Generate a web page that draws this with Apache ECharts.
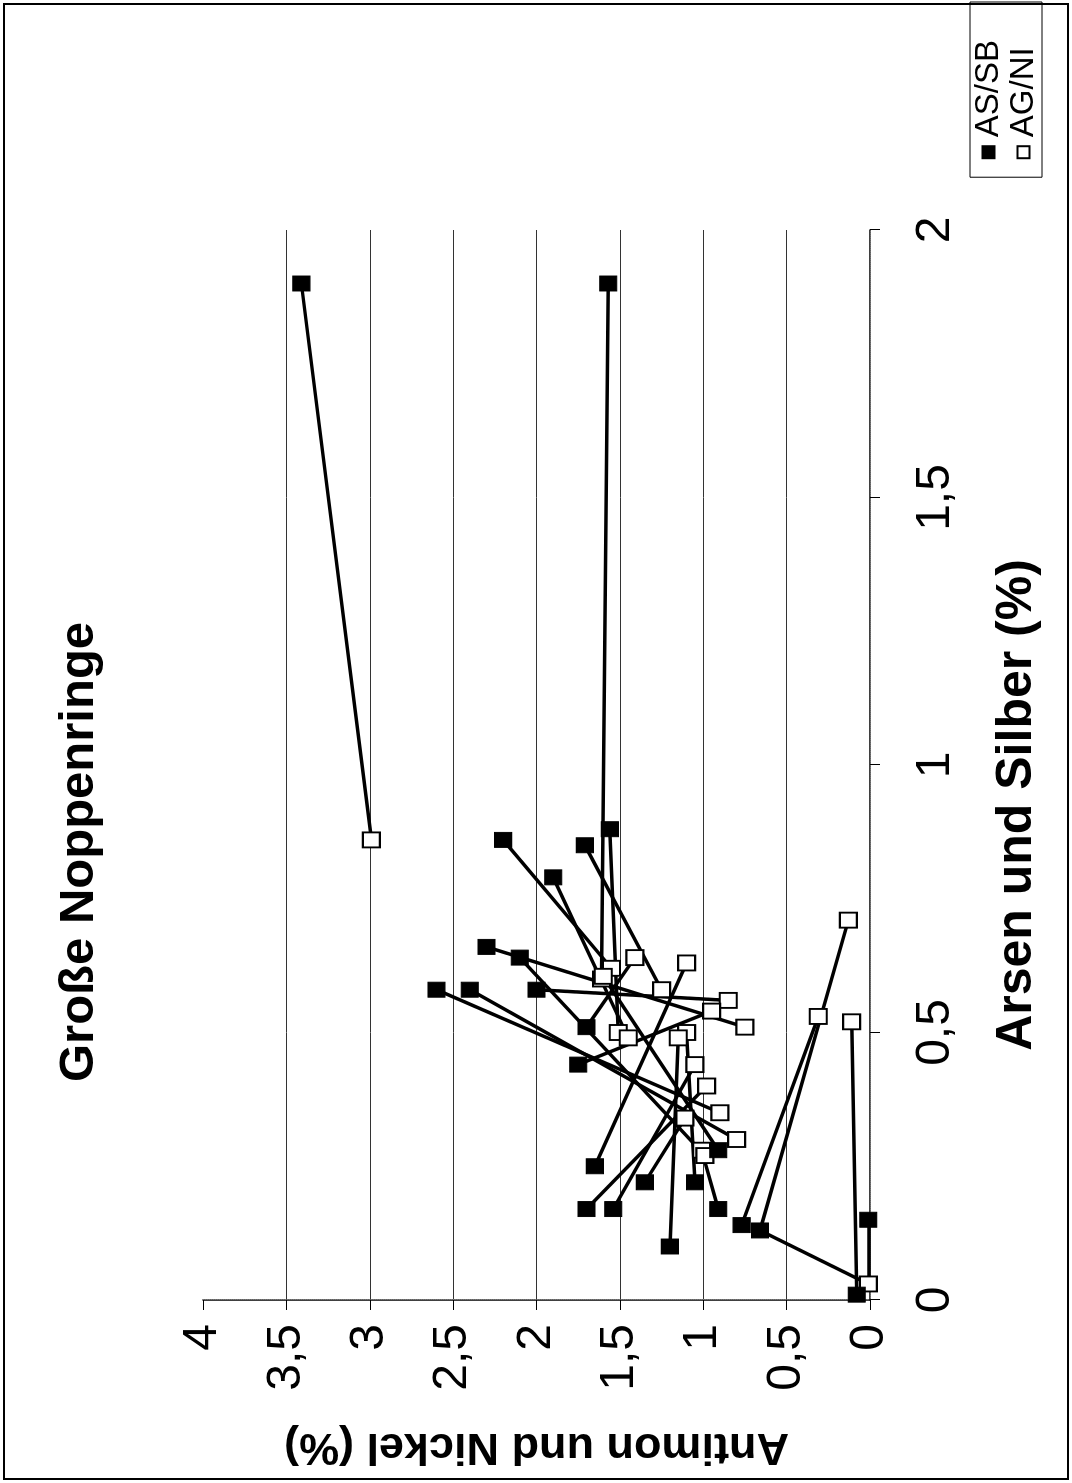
<!DOCTYPE html>
<html>
<head>
<meta charset="utf-8">
<script src="https://cdn.jsdelivr.net/npm/echarts@6/dist/echarts.min.js"></script>
<style>
html,body{margin:0;padding:0;background:#fff;overflow:hidden;width:1072px;height:1483px;}
#chart{position:absolute;left:0;top:0;width:1483px;height:1072px;transform-origin:0 0;transform:translate(0px,1483px) rotate(-90deg);}
</style>
</head>
<body>
<div id="chart"></div>
<script>
// Filled squares: Arsen (x) / Antimon (y)
const arsenAsSb   = [1.90,1.90,0.86,0.85,0.88,0.79,0.66,0.64,0.58,0.58,0.58,0.51,0.44,0.25,0.22,0.17,0.17,0.10,0.22,0.17,0.14,0.13,0.15,0.01,0.28];
const antimonAsSb = [3.41,1.57,2.20,1.71,1.56,1.90,2.30,2.10,2.60,2.40,2.00,1.70,1.75,1.65,1.35,1.70,1.54,1.20,1.05,0.91,0.77,0.66,0.01,0.08,0.91];
// Open squares: Silber (x) / Nickel (y)
const silberAgNi  = [0.86,0.62,0.60,0.64,0.58,0.50,0.49,0.71,0.63,0.56,0.54,0.51,0.50,0.49,0.53,0.52,0.44,0.40,0.35,0.30,0.28,0.03,0.34,0.27,0.605];
const nickelAgNi  = [2.99,1.55,1.61,1.41,1.25,1.51,1.45,0.13,1.10,0.85,0.95,0.75,1.10,1.15,0.31,0.11,1.05,0.98,0.90,0.80,1.01,0.01,1.11,0.99,1.60];
// Connecting lines: [filled index, open index]
const links = [[0,0],[1,2],[2,1],[3,4],[4,5],[5,6],[6,11],[7,23],[8,18],[9,19],[10,9],[11,3],[12,10],[13,8],[14,22],[15,17],[16,16],[17,13],[18,12],[19,20],[20,14],[21,7],[22,21],[23,15],[24,24],[21,21]];
// Tick labels
const arsenTickValues = [0,0.5,1,1.5,2];
const arsenTickLabels = ['0','0,5','1','1,5','2'];
const antimonTickValues = [0,0.5,1,1.5,2,2.5,3,3.5,4];
const antimonTickLabels = ['0','0,5','1','1,5','2','2,5','3','3,5','4'];

const FONT = '"Liberation Sans", Arial, Helvetica, sans-serif';
function lab(values, labels){ return v => { const i = values.findIndex(t => Math.abs(t - v) < 1e-9); return i >= 0 ? labels[i] : ''; }; }

const filledData = arsenAsSb.map((x,i)=>[x, antimonAsSb[i]]);
const openData = silberAgNi.map((x,i)=>[x, nickelAgNi[i]]);
const lineData = links.map(([f,o])=>({coords:[filledData[f], openData[o]]}));

const chart = echarts.init(document.getElementById('chart'), null, {renderer:'canvas'});
chart.setOption({
  animation:false,
  backgroundColor:'#fff',
  textStyle:{fontFamily:FONT},
  title:{text:'Große Noppenringe', left:396, top:50,
    textStyle:{fontFamily:FONT, fontSize:49, fontWeight:'bold', color:'#000'}},
  legend:{data:['AS/SB','AG/NI'], orient:'vertical', right:2, bottom:30,
    borderColor:'#000', borderWidth:1, padding:[2,38,2,18], itemGap:2,
    itemWidth:12, itemHeight:12, textStyle:{fontFamily:FONT, fontSize:33, color:'#000', padding:[0,0,0,4]}},
  grid:{left:183, right:230, top:203, bottom:202},
  xAxis:[{type:'value', min:0, max:2, interval:0.5, position:'bottom',
    name:'Arsen und Silber (%)', nameLocation:'middle', nameGap:122,
    nameTextStyle:{fontFamily:FONT, fontSize:50, fontWeight:'bold', color:'#000', padding:[0,80,0,0]},
    axisLine:{show:true, onZero:false, lineStyle:{color:'#000', width:1.5}},
    axisTick:{show:true, inside:false, length:10, lineStyle:{color:'#000', width:1}},
    axisLabel:{margin:42, fontSize:48, color:'#000', fontFamily:FONT, formatter:lab(arsenTickValues, arsenTickLabels)},
    splitLine:{show:false}},
   {type:'value', min:0, max:2, position:'top', axisLine:{show:true, lineStyle:{color:'#777', width:1, type:'dotted'}},
    axisTick:{show:false}, axisLabel:{show:false}, splitLine:{show:false}}],
  yAxis:[{type:'value', min:0, max:4, interval:0.5, position:'left',
    name:'Antimon und Nickel (%)', nameLocation:'middle', nameGap:124, nameRotate:90,
    nameTextStyle:{fontFamily:FONT, fontSize:45, fontWeight:'bold', color:'#000'},
    axisLine:{show:true, onZero:false, lineStyle:{color:'#000', width:1.5}},
    axisTick:{show:true, inside:false, length:10, lineStyle:{color:'#000', width:1}},
    axisLabel:{margin:24, fontSize:48, color:'#000', fontFamily:FONT, formatter:lab(antimonTickValues, antimonTickLabels)},
    splitLine:{show:true, showMinLine:false, showMaxLine:false, lineStyle:{color:'#333', width:1}}},
   {type:'value', min:0, max:4, position:'right', axisLine:{show:true, lineStyle:{color:'#777', width:1, type:'dotted'}},
    axisTick:{show:false}, axisLabel:{show:false}, splitLine:{show:false}}],
  graphic:[{type:'rect', shape:{x:4, y:4, width:1475, height:1064}, style:{fill:'none', stroke:'#000', lineWidth:2}, silent:true}],
  series:[
    {type:'lines', coordinateSystem:'cartesian2d', xAxisIndex:0, yAxisIndex:0, silent:true, z:2,
      lineStyle:{color:'#000', width:3.5, opacity:1, curveness:0}, data:lineData},
    {name:'AS/SB', type:'scatter', xAxisIndex:0, yAxisIndex:0, symbol:'rect', symbolSize:[15,17], z:4,
      itemStyle:{color:'#000', borderColor:'#000', borderWidth:1, opacity:1}, data:filledData},
    {name:'AG/NI', type:'scatter', xAxisIndex:0, yAxisIndex:0, symbol:'rect', symbolSize:[15,17], z:3,
      itemStyle:{color:'#fff', borderColor:'#000', borderWidth:2, opacity:1}, data:openData}
  ]
});
</script>
</body>
</html>
